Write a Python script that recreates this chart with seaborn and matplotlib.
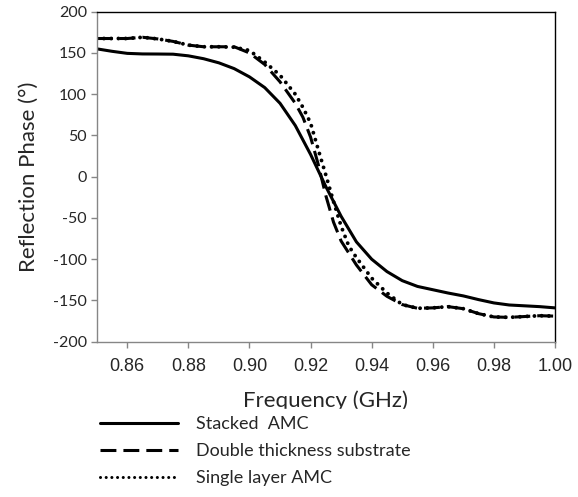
import matplotlib
matplotlib.use("Agg")
import matplotlib.pyplot as plt
import seaborn as sns
import pandas as pd

# ---- data ----
freq_stacked = [0.850, 0.855, 0.860, 0.865, 0.870, 0.875, 0.880, 0.885, 0.890, 0.895,
                0.900, 0.905, 0.910, 0.915, 0.920, 0.925, 0.930, 0.935, 0.940, 0.945,
                0.950, 0.955, 0.960, 0.965, 0.970, 0.975, 0.980, 0.985, 0.990, 0.995, 1.000]
phase_stacked = [155, 152, 149.5, 148.8, 148.7, 148.5, 146.5, 143, 138, 131,
                 121, 108, 89, 62, 27, -12, -48, -79, -100, -115,
                 -126, -133, -137, -141, -144.5, -149, -153, -155.5, -156.5, -157.5, -159]

freq_double = [0.850, 0.855, 0.860, 0.865, 0.870, 0.875, 0.880, 0.885, 0.890, 0.895,
               0.900, 0.905, 0.910, 0.915, 0.9175, 0.920, 0.9225, 0.925, 0.9275, 0.930,
               0.935, 0.940, 0.945, 0.950, 0.955, 0.960, 0.965, 0.970, 0.975, 0.980,
               0.985, 0.990, 0.995, 1.000]
phase_double = [167.5, 167.5, 167.5, 169, 167, 164, 159.5, 157.5, 157.5, 157.5,
                150, 136, 115, 89, 72, 48, 15, -23, -55, -78,
                -107, -131, -145, -155, -159.5, -159, -157.5, -160, -166, -170,
                -170.5, -169.5, -168.5, -169]

freq_single = [0.850, 0.855, 0.860, 0.865, 0.870, 0.875, 0.880, 0.885, 0.890, 0.895,
               0.900, 0.905, 0.910, 0.915, 0.9175, 0.920, 0.9225, 0.925, 0.9275, 0.930,
               0.9325, 0.935, 0.940, 0.945, 0.950, 0.955, 0.960, 0.965, 0.970, 0.975,
               0.980, 0.985, 0.990, 0.995, 1.000]
phase_single = [167.5, 167.5, 167.5, 169, 167, 164, 159.5, 157.5, 157.5, 157,
                153, 139, 123, 100, 84, 65, 33, 2, -30, -60,
                -84, -98, -123, -141, -155, -159.5, -159, -157.5, -160, -166,
                -170, -170.5, -169.5, -168.5, -169]

labels = ["Stacked  AMC", "Double thickness substrate", "Single layer AMC"]
xticks = [0.86, 0.88, 0.90, 0.92, 0.94, 0.96, 0.98, 1.00]
xtick_labels = ["0.86", "0.88", "0.90", "0.92", "0.94", "0.96", "0.98", "1.00"]
yticks = [-200, -150, -100, -50, 0, 50, 100, 150, 200]

sns.set_style("white")
plt.rcParams["font.family"] = ["Lato", "DejaVu Sans"]

fig = plt.figure(figsize=(5.78, 4.97), dpi=100)
ax = fig.add_axes([96.7 / 578, 1 - 341.7 / 497, (555 - 96.7) / 578, 330 / 497])

series = [(freq_stacked, phase_stacked, labels[0], "-", 2.2),
          (freq_double, phase_double, labels[1], (0, (5.2, 2.3)), 2.2),
          (freq_single, phase_single, labels[2], (0, (0.01, 1.85)), 2.8)]
for f, p, lab, ls, w in series:
    df = pd.DataFrame({"Frequency": f, "Phase": p})
    sns.lineplot(data=df, x="Frequency", y="Phase", ax=ax, color="black",
                 linewidth=w, linestyle=ls, label=lab, sort=False, legend=False)

lines = ax.get_lines()
lines[0].set_solid_capstyle("round")
lines[1].set_dash_capstyle("butt")
lines[2].set_dash_capstyle("round")

ax.set_xlim(0.85, 1.00)
ax.set_ylim(-200, 200)
ax.set_xticks(xticks)
ax.set_xticklabels(xtick_labels, fontfamily="Liberation Sans", fontsize=13)
ax.set_yticks(yticks)
ax.set_yticklabels([str(v) for v in yticks], fontsize=11.5)
ax.tick_params(axis="both", direction="out", length=4, width=1, color="#868686",
               left=True, bottom=True, pad=3)
ax.tick_params(axis="x", pad=8)

for side in ["left", "bottom"]:
    ax.spines[side].set_color("#868686")
    ax.spines[side].set_linewidth(1)
for side in ["top", "right"]:
    ax.spines[side].set_color("black")
    ax.spines[side].set_linewidth(1)

ax.set_xlabel("Frequency (GHz)", fontsize=16, labelpad=11)
ax.set_ylabel("Reflection Phase (°)", fontsize=16, labelpad=10)

leg = fig.legend(lines, labels, loc="upper left",
                 bbox_to_anchor=(0.161, 1 - 409 / 497), frameon=True,
                 facecolor="white", edgecolor="white", framealpha=1, fancybox=False,
                 fontsize=13, handlelength=4.3, handletextpad=1.0, labelspacing=0.6,
                 borderpad=0.4, borderaxespad=0)
for h in leg.get_lines():
    h.set_linewidth(2.2)

fig.savefig("out.png", dpi=100)
